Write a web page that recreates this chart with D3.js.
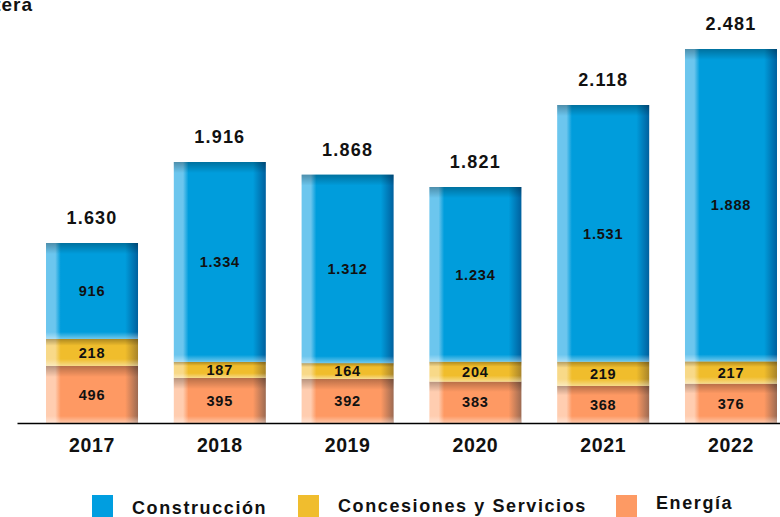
<!DOCTYPE html>
<html>
<head>
<meta charset="utf-8">
<script src="https://cdn.jsdelivr.net/npm/d3@7"></script>
<style>
  html, body { margin: 0; padding: 0; background: #fff; }
  svg { display: block; font-family: "Liberation Sans", Arial, sans-serif; }
</style>
</head>
<body>
<svg id="chart" width="780" height="517"></svg>
<script>
// ---- Data ----
const years = ["2017", "2018", "2019", "2020", "2021", "2022"];
const energia = [496, 395, 392, 383, 368, 376];
const concesiones = [218, 187, 164, 204, 219, 217];
const construccion = [916, 1334, 1312, 1234, 1531, 1888];
const totals = [1630, 1916, 1868, 1821, 2118, 2481];
const seriesNames = ["Energía", "Concesiones y Servicios", "Construcción"];
const legendOrder = ["Construcción", "Concesiones y Servicios", "Energía"];

const fmt = v => d3.format(",")(v).replace(/,/g, ".");

const rows = years.map((y, i) => ({
  year: y,
  "Energía": energia[i],
  "Concesiones y Servicios": concesiones[i],
  "Construcción": construccion[i],
  total: totals[i]
}));

const colors = {
  "Construcción": { main: "#009ddc", light: "#6cc6ee", dark: "#00609e", legend: "#009ee0" },
  "Concesiones y Servicios": { main: "#f0bd2c", light: "#f8d988", dark: "#a8842a", legend: "#f0bd2e" },
  "Energía": { main: "#fe9963", light: "#ffcdb0", dark: "#9c6a52", legend: "#fd9a64" }
};

const svg = d3.select("#chart");
const defs = svg.append("defs");

// Horizontal bevel gradients per series
Object.entries(colors).forEach(([name, c], i) => {
  const g = defs.append("linearGradient").attr("id", "hg" + i)
    .attr("x1", "0").attr("x2", "1").attr("y1", "0").attr("y2", "0");
  g.append("stop").attr("offset", "0").attr("stop-color", c.light);
  g.append("stop").attr("offset", "0.1").attr("stop-color", c.light);
  g.append("stop").attr("offset", "0.16").attr("stop-color", c.main);
  g.append("stop").attr("offset", "0.86").attr("stop-color", c.main);
  g.append("stop").attr("offset", "1").attr("stop-color", c.dark);
  c.grad = "url(#hg" + i + ")";
});
const topG = defs.append("linearGradient").attr("id", "topShade")
  .attr("x1", "0").attr("x2", "0").attr("y1", "0").attr("y2", "1");
topG.append("stop").attr("offset", "0").attr("stop-color", "#000").attr("stop-opacity", 0.28);
topG.append("stop").attr("offset", "1").attr("stop-color", "#000").attr("stop-opacity", 0);
const botG = defs.append("linearGradient").attr("id", "botShine")
  .attr("x1", "0").attr("x2", "0").attr("y1", "0").attr("y2", "1");
botG.append("stop").attr("offset", "0").attr("stop-color", "#fff").attr("stop-opacity", 0);
botG.append("stop").attr("offset", "1").attr("stop-color", "#fff").attr("stop-opacity", 0.45);

// ---- Scales ----
const x = d3.scaleBand().domain(years).range([17, 806])
  .paddingInner(0.28).paddingOuter(0.227);

// The reference bars are not drawn to a single proportional scale;
// a piecewise-linear scale reproduces their drawn heights.
const y = d3.scaleLinear()
  .domain([0, 368, 395, 496, 600, 714, 1630, 1821, 1916, 2118, 2481])
  .range([423, 386, 378, 366, 361, 339, 243, 187, 162, 105, 49]);

const stack = d3.stack().keys(seriesNames);
const layers = stack(rows);

const bw = x.bandwidth();

layers.forEach(layer => {
  const c = colors[layer.key];
  const g = svg.append("g").attr("class", "series");
  layer.forEach(d => {
    const x0 = x(d.data.year);
    const yTop = y(d[1]);
    const h = y(d[0]) - yTop;
    g.append("rect").attr("x", x0).attr("y", yTop).attr("width", bw).attr("height", h)
      .attr("fill", c.grad);
    const tb = Math.min(11, h * 0.25);
    g.append("rect").attr("x", x0).attr("y", yTop).attr("width", bw).attr("height", tb)
      .attr("fill", "url(#topShade)");
    const bb = Math.min(7, h * 0.3);
    g.append("rect").attr("x", x0).attr("y", yTop + h - bb).attr("width", bw).attr("height", bb)
      .attr("fill", "url(#botShine)");
    g.append("text")
      .attr("x", x0 + bw / 2)
      .attr("y", yTop + h / 2)
      .attr("dy", "0.36em")
      .attr("text-anchor", "middle")
      .attr("font-size", 14.5)
      .attr("font-weight", "bold")
      .attr("letter-spacing", 0.8)
      .attr("fill", "#111")
      .text(fmt(d[1] - d[0]));
  });
});

// Totals
svg.append("g").selectAll("text").data(rows).join("text")
  .attr("x", d => x(d.year) + bw / 2)
  .attr("y", d => y(d.total) - 19)
  .attr("text-anchor", "middle")
  .attr("font-size", 18)
  .attr("font-weight", "bold")
  .attr("letter-spacing", 1.2)
  .attr("fill", "#111")
  .text(d => fmt(d.total));

// Axis
const axis = svg.append("g").attr("transform", "translate(0,423)")
  .call(d3.axisBottom(x).tickSize(0).tickSizeOuter(0).tickPadding(15));
axis.select(".domain").attr("stroke", "#000").attr("stroke-width", 1.6);
axis.selectAll("text")
  .attr("font-family", "'Liberation Sans', Arial, sans-serif")
  .attr("font-size", 19.5)
  .attr("font-weight", "bold")
  .attr("letter-spacing", 0.6)
  .attr("fill", "#111");

// Title fragment (clipped at left edge, as in the reference)
svg.append("text")
  .attr("x", 33).attr("y", 11)
  .attr("text-anchor", "end")
  .attr("font-size", 19)
  .attr("font-weight", "bold")
  .attr("letter-spacing", 1)
  .attr("fill", "#111")
  .text("Cartera");

// Legend
const legendPos = [
  { sx: 92, tx: 132, ty: 514 },
  { sx: 298, tx: 338, ty: 512 },
  { sx: 616, tx: 656, ty: 509 }
];
const lg = svg.append("g");
legendOrder.forEach((name, i) => {
  const p = legendPos[i];
  lg.append("rect").attr("x", p.sx).attr("y", 495).attr("width", 21).attr("height", 23)
    .attr("fill", colors[name].legend);
  lg.append("text").attr("x", p.tx).attr("y", p.ty)
    .attr("font-size", 18)
    .attr("font-weight", "bold")
    .attr("letter-spacing", 1.6)
    .attr("fill", "#111")
    .text(name);
});
</script>
</body>
</html>
